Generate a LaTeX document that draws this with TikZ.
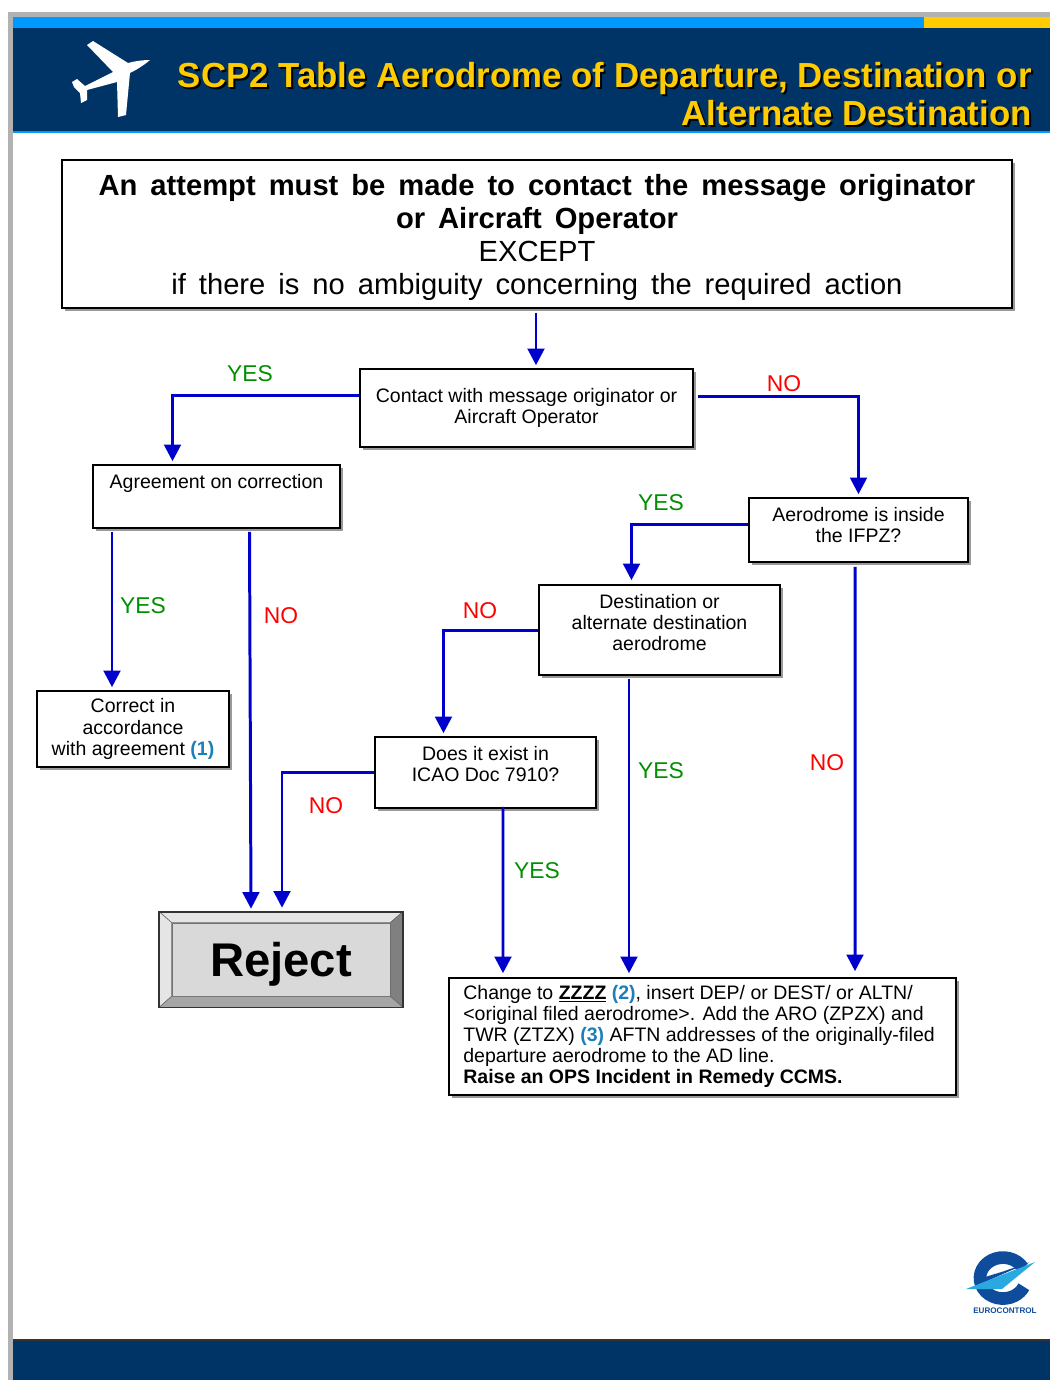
\documentclass[tikz,border=0pt]{standalone}
\usepackage{fontspec}
\setmainfont{Liberation Sans}
\newfontfamily\widefont[WordSpace=1.6]{Liberation Sans}
\usetikzlibrary{arrows.meta, calc, shadows}
\definecolor{navy}{HTML}{003366}
\definecolor{skyband}{HTML}{0099FF}
\definecolor{goldband}{HTML}{FFCC00}
\definecolor{flowblue}{HTML}{0000CC}
\definecolor{yesgreen}{HTML}{008F00}
\definecolor{noteblue}{HTML}{1C7FB8}
\definecolor{logoblue}{HTML}{0F4C9C}
\definecolor{logosky}{HTML}{2AA8E0}
\begin{document}
\begin{tikzpicture}[
      x=0.02cm, y=-0.02cm,
      box/.style={rectangle, draw=black, line width=0.9pt, fill=white, align=center, inner sep=0pt, font=\fontsize{11.1}{12}\selectfont,
        drop shadow={shadow xshift=1.8pt, shadow yshift=-1.8pt, opacity=0.4, fill=black}},
      arrow/.style={-{Triangle[length=9.5pt, width=9.5pt]}, line width=1.7pt, flowblue},
      yes/.style={text=yesgreen, font=\fontsize{13}{15}\selectfont},
      no/.style={text=red, font=\fontsize{13}{15}\selectfont},
      title/.style={align=right, anchor=east, inner sep=0pt, font=\fontsize{19.8}{21.6}\selectfont\bfseries}
    ]
      \useasboundingbox (0,0) rectangle (1050,1380);

      % Header and footer
      \fill[black!30] (8,12) rectangle (1050,17);
      \fill[black!30] (8,12) rectangle (13,1380);
      \fill[skyband] (13,17) rectangle (924,28);
      \fill[goldband] (924,17) rectangle (1050,28);
      \fill[navy] (13,28) rectangle (1050,131);
      \fill[skyband] (13,131) rectangle (1050,133);
      \fill[navy] (13,1340) rectangle (1050,1380);
      \draw[black!80, line width=0.6pt] (13,1340) -- (1050,1340);

      % Plane
      \fill[white] (150,60) .. controls (143,66) and (136,70) .. (130,73) -- (126,115) -- (118,117)
        -- (117,82) -- (87,90) -- (87,100) -- (81,103) -- (80,93) -- (74,87) -- (72,82) -- (77,79)
        -- (85,86) -- (113,72) -- (87,45) -- (93,41) -- (128,63) .. controls (135,61) and (143,60) .. (150,60) -- cycle;

      % Title
      \node[title, text=black] (titleshade) at (1034,96) {SCP2 Table Aerodrome of Departure, Destination or\\Alternate Destination};
      \node[title, text=goldband] (title) at (1032,94) {SCP2 Table Aerodrome of Departure, Destination or\\Alternate Destination};

      % Nodes
      \node[box, minimum width=950*0.02cm, minimum height=148*0.02cm, font=\fontsize{16.6}{18.8}\selectfont\widefont] (attempt) at (537,234)
        {\rule{0pt}{15.5pt}\textbf{An attempt must be made to contact the message originator}\\\textbf{or Aircraft Operator}\\EXCEPT\\if there is no ambiguity concerning the required action};
      \node[box, minimum width=333*0.02cm, minimum height=78*0.02cm] (contact) at (526.5,408) {Contact with message originator or\\Aircraft Operator};
      \node[box, minimum width=247*0.02cm, minimum height=63*0.02cm] (agreement) at (216.5,496.5) {Agreement on correction\\[5.6pt]\mbox{}};
      \node[box, minimum width=219*0.02cm, minimum height=64*0.02cm] (ifpz) at (858.5,530) {Aerodrome is inside\\the IFPZ?\\[-6pt]\mbox{}};
      \node[box, minimum width=241*0.02cm, minimum height=90*0.02cm] (destination) at (659.5,630) {Destination or\\alternate destination\\aerodrome\\[-3pt]\mbox{}};
      \node[box, minimum width=192*0.02cm, minimum height=76*0.02cm] (correct) at (133,729) {Correct in\\accordance\\with agreement \textcolor{noteblue}{\textbf{(1)}}};
      \node[box, minimum width=221*0.02cm, minimum height=71*0.02cm] (icao) at (485.5,772.5) {Does it exist in\\ICAO Doc 7910?\\[-2pt]\mbox{}};
      \node[box, minimum width=507*0.02cm, minimum height=117*0.02cm] (change) at (702.5,1036.5) {};
      \node[anchor=west, align=left, inner sep=0pt, font=\fontsize{11.1}{12}\selectfont] (changetext) at (463,1036.5)
        {Change to \underline{\textbf{ZZZZ}} \textcolor{noteblue}{\textbf{(2)}}, insert DEP/ or DEST/ or ALTN/\\<original filed aerodrome>. Add the ARO (ZPZX) and\\TWR (ZTZX) \textcolor{noteblue}{\textbf{(3)}} AFTN addresses of the originally-filed\\departure aerodrome to the AD line.\\\textbf{Raise an OPS Incident in Remedy CCMS.}};

      % Reject button
      \node[rectangle, draw=black!80, line width=0.9pt, fill=black!15, minimum width=242*0.02cm, minimum height=94*0.02cm, inner sep=0pt] (reject) at (281,959.5) {};
      \node[rectangle, draw=black!55, line width=0.5pt, fill=black!15, minimum width=218*0.02cm, minimum height=73*0.02cm, inner sep=0pt, text depth=0pt, font=\fontsize{26.9}{28}\selectfont\bfseries] (rejectface) at (281,959.5) {Reject};
      \filldraw[draw=black!60, line width=0.3pt, fill=black!10] (reject.north west) -- (reject.north east) -- (rejectface.north east) -- (rejectface.north west) -- cycle;
      \filldraw[draw=black!60, line width=0.3pt, fill=black!10] (reject.north west) -- (reject.south west) -- (rejectface.south west) -- (rejectface.north west) -- cycle;
      \filldraw[draw=black!60, line width=0.3pt, fill=black!50] (reject.north east) -- (reject.south east) -- (rejectface.south east) -- (rejectface.north east) -- cycle;
      \filldraw[draw=black!60, line width=0.3pt, fill=black!35] (reject.south west) -- (reject.south east) -- (rejectface.south east) -- (rejectface.south west) -- cycle;
      \draw[black!80, line width=0.9pt] (reject.north west) rectangle (reject.south east);

      % Arrows
      \draw[arrow] ([shift={(-1,4)}]attempt.south) -- ([shift={(-1,-3)}]attempt.south |- contact.north);
      \draw[arrow] ([shift={(0,-13)}]contact.west) -| ([shift={(-44,-3)}]agreement.north);
      \draw[arrow] ([shift={(4,-12)}]contact.east) -| ([shift={(0,-3)}]ifpz.north);
      \draw[arrow] ([shift={(-104.5,3)}]agreement.south) -- ([shift={(-21,-3)}]correct.north);
      \draw[arrow] ([shift={(33,3)}]agreement.south) -- ([shift={(-30,-3)}]reject.north);
      \draw[arrow] ([shift={(0,-6)}]ifpz.west) -| ([shift={(-28,-4)}]destination.north);
      \draw[arrow] ([shift={(-3.5,4)}]ifpz.south) -- ([shift={(152.5,-6)}]change.north);
      \draw[arrow] (destination.west) -| ([shift={(-42,-3)}]icao.north);
      \draw[arrow] ([shift={(-30.5,3)}]destination.south) -- ([shift={(-73.5,-4)}]change.north);
      \draw[arrow] (icao.west) -| ([shift={(1,-4)}]reject.north);
      \draw[arrow] ([shift={(17.5,-2)}]icao.south) -- ([shift={(-199.5,-4)}]change.north);

      % Labels
      \node[yes] (yescontact) at (250,374) {YES};
      \node[no] (nocontact) at (784,384) {NO};
      \node[yes] (yesifpz) at (661,503) {YES};
      \node[yes] (yesagreement) at (143,606) {YES};
      \node[no] (noagreement) at (281,616) {NO};
      \node[no] (nodestination) at (480,611) {NO};
      \node[no] (noifpz) at (827,763) {NO};
      \node[yes] (yesdestination) at (661,771) {YES};
      \node[no] (noicao) at (326,806) {NO};
      \node[yes] (yesicao) at (537,871) {YES};

      % Logo
      \draw[logoblue, line width=7.2pt] (1022.9,1267.8) arc[start angle=30, end angle=335, x radius=23, y radius=-20.5];
      \fill[logoblue] (985,1277) -- (1003,1271.5) -- (1030,1262) -- (985,1282) -- cycle;
      \fill[logosky] (1035,1262) -- (966,1289) -- (1002,1289) -- cycle;
      \node[inner sep=0pt, text=logoblue, font=\fontsize{4.6}{5}\selectfont\bfseries] (logotext) at (1005,1311) {EUROCONTROL};

    \end{tikzpicture}
\end{document}
